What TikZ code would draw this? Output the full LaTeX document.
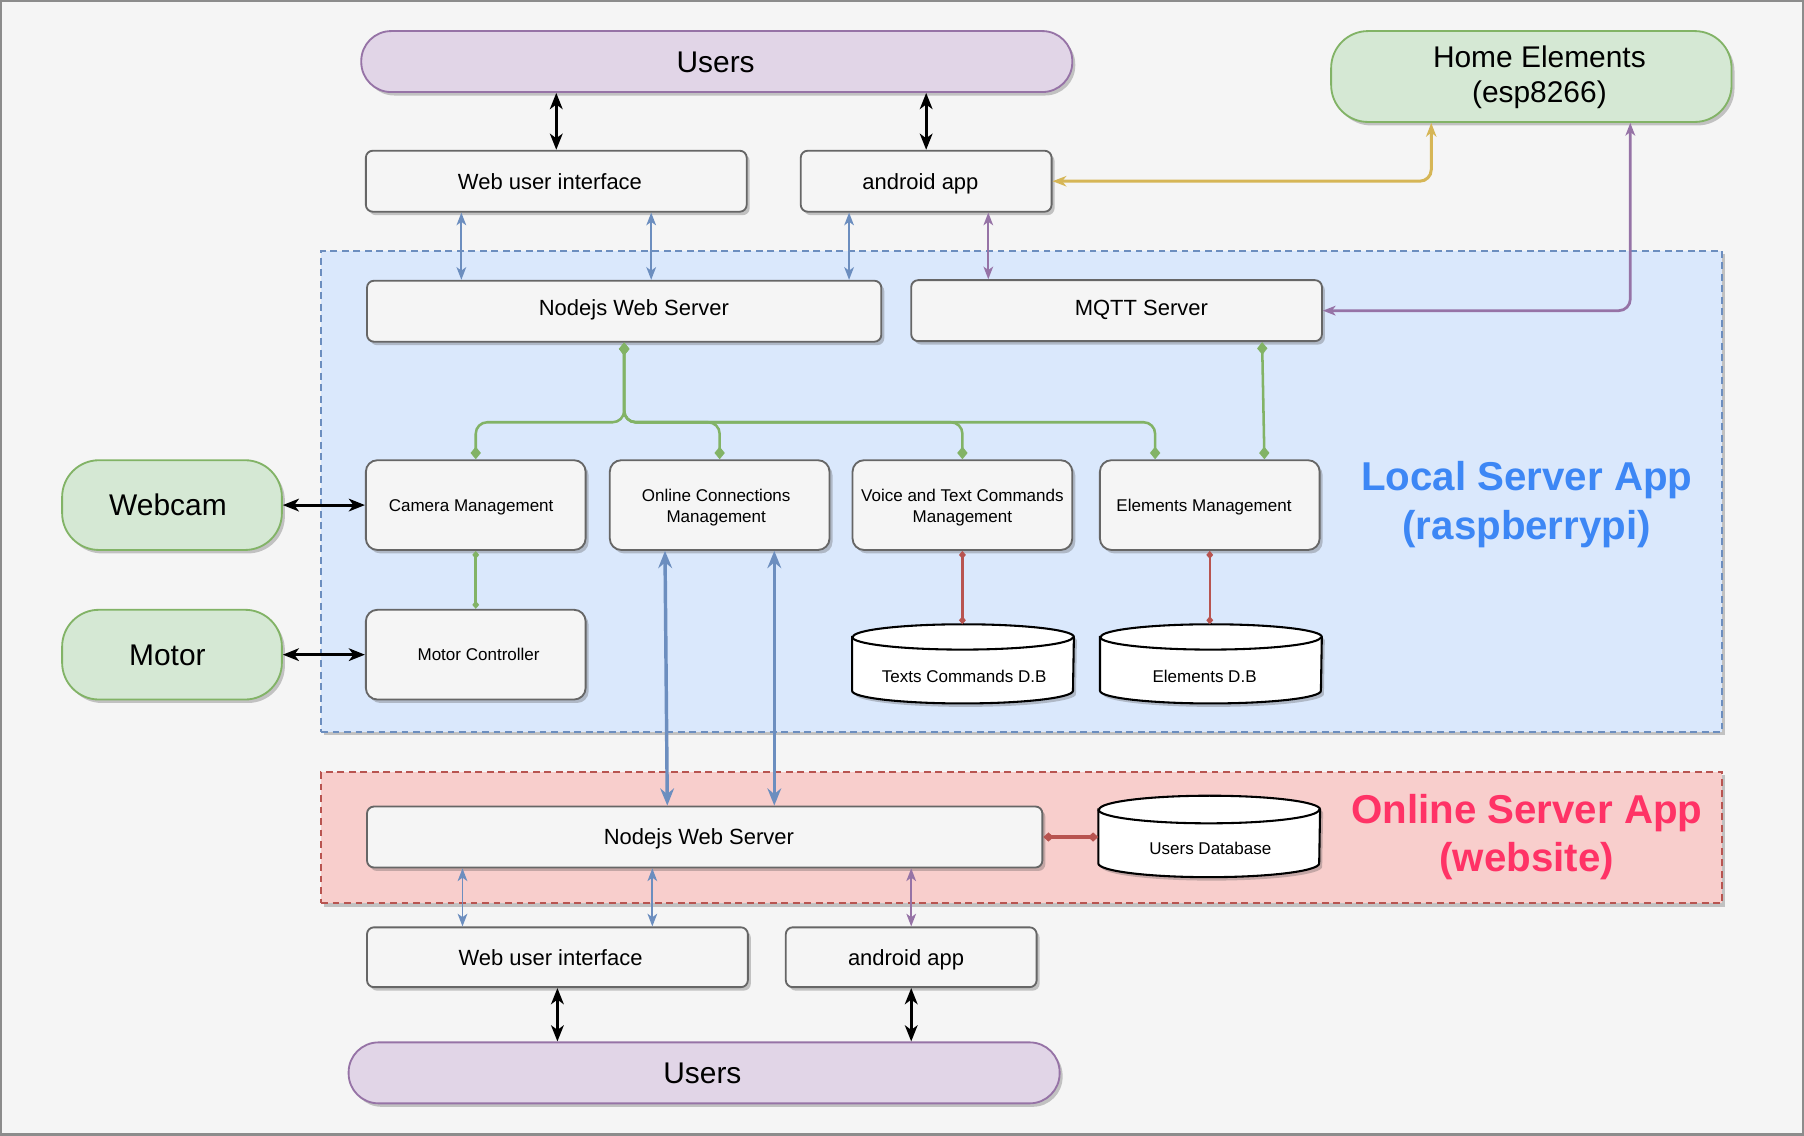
\documentclass[tikz,border=0pt]{standalone}
\usepackage{fontspec}
\setmainfont{Liberation Sans}
\usetikzlibrary{arrows.meta,shadows,calc}

\definecolor{bgc}{HTML}{F5F5F5}
\definecolor{framec}{HTML}{8C8C8C}
\definecolor{boxfill}{HTML}{F5F5F5}
\definecolor{boxline}{HTML}{666666}
\definecolor{purpfill}{HTML}{E1D5E7}
\definecolor{purpline}{HTML}{9673A6}
\definecolor{grnfill}{HTML}{D5E8D4}
\definecolor{grnline}{HTML}{82B366}
\definecolor{bluefill}{HTML}{DAE8FC}
\definecolor{blueline}{HTML}{6C8EBF}
\definecolor{redfill}{HTML}{F8CECC}
\definecolor{redline}{HTML}{B85450}
\definecolor{yelline}{HTML}{D6B656}
\definecolor{localtxt}{HTML}{3D87F5}
\definecolor{onlinetxt}{HTML}{FF3366}

\tikzset{
 shad/.style={drop shadow={shadow xshift=1.3pt,shadow yshift=-1.5pt,opacity=0.3,fill=black!70}},
 mbox/.style={draw=boxline, fill=boxfill, line width=0.8pt, rounded corners=3pt, shad, inner sep=0pt,
   font=\fontsize{9.55}{11}\selectfont, minimum height=26.5pt, text height=6.9pt, text depth=0pt},
 msbox/.style={mbox, rounded corners=5pt, minimum width=95.5pt, minimum height=39pt,
   font=\fontsize{7.4}{9}\selectfont, align=center, text height=5.3pt, text depth=0pt},
 two/.style={text height=15.3pt, text depth=0pt},
 ppill/.style={draw=purpline, fill=purpfill, line width=0.8pt, rounded corners=13pt, shad, inner sep=0pt,
   minimum height=26.5pt, font=\fontsize{13}{15}\selectfont, text height=9.4pt, text depth=0pt},
 gpill/.style={draw=grnline, fill=grnfill, line width=0.8pt, rounded corners=16pt, shad, inner sep=0pt,
   font=\fontsize{13}{15.5}\selectfont, align=center, text height=9.4pt, text depth=0pt},
 cont/.style={line width=0.8pt, dash pattern=on 3pt off 2pt, shad, inner sep=0pt},
 dbnode/.style={inner sep=0pt, minimum width=96pt},
 dbtxt/.style={font=\fontsize{7.4}{9}\selectfont},
 ttl/.style={font=\fontsize{17.5}{21}\selectfont\bfseries, align=center, text height=33.6pt, text depth=0pt},
 cblk/.style={line width=1.3pt, draw=black, <->, >={Stealth[length=7pt,width=5.5pt,inset=2pt]}},
 cblu/.style={line width=0.8pt, draw=blueline, <->, >={Stealth[length=5.5pt,width=4.2pt,inset=1.5pt]}},
 cbluthick/.style={line width=1.5pt, draw=blueline, <->, >={Stealth[length=7.5pt,width=6pt,inset=2.5pt]}},
 cpur/.style={line width=0.8pt, draw=purpline, <->, >={Stealth[length=5.5pt,width=4.2pt,inset=1.5pt]}},
 cpur2/.style={line width=1.2pt, draw=purpline, <->, >={Stealth[length=5.5pt,width=4.2pt,inset=1.5pt]}, rounded corners=5pt},
 cyel/.style={line width=1.3pt, draw=yelline, <->, >={Stealth[length=6pt,width=4.5pt,inset=1.8pt]}, rounded corners=5pt},
 cgrn/.style={line width=1.1pt, draw=grnline, arrows={Diamond[length=5.5pt,width=4.5pt]-Diamond[length=5.5pt,width=4.5pt]}},
 cgrns/.style={line width=1.1pt, draw=grnline, arrows={Diamond[length=3.5pt,width=3pt]-Diamond[length=3.5pt,width=3pt]}},
 creds/.style={line width=1.1pt, draw=redline, arrows={Diamond[length=3.5pt,width=3pt]-Diamond[length=3.5pt,width=3pt]}},
 credthick/.style={line width=1.8pt, draw=redline, arrows={Diamond[length=4.5pt,width=4pt]-Diamond[length=4.5pt,width=4pt]}},
}

% cylinder drawn from the anchors of a named node; #2 = ellipse y radius
\newcommand{\dbdraw}[2]{%
 \path[draw=black, fill=white, line width=0.9pt, shad]
   ($(#1.north west)+(0,-#2)$) -- ($(#1.south west)+(0,#2)$)
   arc[start angle=180,end angle=360,x radius=48pt,y radius=#2]
   -- ($(#1.north east)+(0,-#2)$)
   arc[start angle=0,end angle=180,x radius=48pt,y radius=#2] -- cycle;
 \draw[black, line width=0.9pt] ($(#1.north west)+(0,-#2)$)
   arc[start angle=180,end angle=360,x radius=48pt,y radius=#2];
}
% small horizontal text offsets inside boxes
\newcommand{\lsp}[1]{\hspace*{#1pt}}

\begin{document}
\begin{tikzpicture}[x=0.5pt,y=0.5pt]
\useasboundingbox (0,0) rectangle (1568,-987);
\draw[draw=framec, fill=bgc, line width=1pt] (1,-1) rectangle (1567,-986);

% containers
\node[cont, draw=blueline, fill=bluefill, minimum width=609pt, minimum height=209pt] (localc) at (888,-427) {};
\node[cont, draw=redline, fill=redfill, minimum width=609pt, minimum height=57pt] (onlinec) at (888,-728) {};

% top
\node[ppill, minimum width=309pt] (users1) at (623,-53.5) {Users\lsp{1}};
\node[gpill, minimum width=174pt, minimum height=39.5pt, text height=22.9pt] (home) at (1331,-66.5) {\lsp{7}Home Elements\\\lsp{7}(esp8266)};
\node[mbox, minimum width=165.5pt] (webui1) at (483.5,-157.5) {Web user interface\lsp{5.5}};
\node[mbox, minimum width=109pt] (android1) at (805,-157.5) {android app\lsp{5}};

% local server
\node[mbox, minimum width=223.5pt, text depth=3pt] (node1) at (542.5,-270.5) {\lsp{8.5}Nodejs Web Server};
\node[mbox, minimum width=178.5pt, text depth=3pt] (mqtt) at (970.5,-270) {\lsp{21.5}MQTT Server};
\node[msbox] (cam) at (413.5,-439) {Camera Management\lsp{4}};
\node[msbox, two] (onl) at (625.5,-439) {Online Connections\lsp{3}\\Management\lsp{3}};
\node[msbox, two] (voice) at (836.5,-439) {Voice and Text Commands\\Management};
\node[msbox] (elem) at (1051.5,-439) {Elements Management\lsp{5}};
\node[msbox] (motorc) at (413.5,-569) {\lsp{2.5}Motor Controller};
\node[dbnode, minimum height=34pt] (tdb) at (837,-577) {};
\dbdraw{tdb}{5.5pt}
\node[dbtxt] (tdbt) at ($(tdb.center)+(1,-11)$) {Texts Commands D.B};
\node[dbnode, minimum height=34pt] (edb) at (1052.5,-577) {};
\dbdraw{edb}{5.5pt}
\node[dbtxt] (edbt) at ($(edb.center)+(-5.5,-11)$) {Elements D.B};
\node[ttl, text=localtxt] (localttl) at (1327,-435) {Local Server App\\(raspberrypi)};

% left devices
\node[gpill, minimum width=95.5pt, minimum height=39pt] (webcam) at (149.5,-439) {Webcam\lsp{3.5}};
\node[gpill, minimum width=95.5pt, minimum height=39pt] (motor) at (149.5,-569) {Motor\lsp{4}};

% online server
\node[mbox, minimum width=293.5pt] (node2) at (612.5,-727.5) {Nodejs Web Server\lsp{5}};
\node[dbnode, minimum height=35pt] (udb) at (1051,-727) {};
\dbdraw{udb}{6pt}
\node[dbtxt] (udbt) at ($(udb.center)+(1,-10)$) {Users Database};
\node[ttl, text=onlinetxt] (onlinettl) at (1327,-724) {Online Server App\\(website)};

% bottom
\node[mbox, minimum width=165.5pt, minimum height=26pt] (webui2) at (484.5,-832) {Web user interface\lsp{6}};
\node[mbox, minimum width=109pt, minimum height=26pt] (android2) at (792,-832) {android app\lsp{4.5}};
\node[ppill, minimum width=309pt] (users2) at (612,-932.5) {Users\lsp{1.5}};

% ---- connectors ----
\draw[cblk] (users1.south -| webui1.north) -- (webui1.north);
\draw[cblk] (users1.south -| android1.north) -- (android1.north);

\coordinate (a1) at ($(webui1.south)+(-82.5,0)$);
\coordinate (a2) at ($(webui1.south)+(82.5,0)$);
\coordinate (a3) at ($(android1.south)+(-67,0)$);
\coordinate (a4) at ($(android1.south)+(54,0)$);
\draw[cblu] (a1) -- (a1 |- node1.north);
\draw[cblu] (a2) -- (a2 |- node1.north);
\draw[cblu] (a3) -- (a3 |- node1.north);
\draw[cpur] (a4) -- (a4 |- mqtt.north);

\coordinate (h1) at ($(home.south)+(-87,0)$);
\coordinate (h2) at ($(home.south)+(86,0)$);
\draw[cyel] (h1) |- (android1.east);
\draw[cpur2] (h2) |- (mqtt.east);

\coordinate (gbus) at (542.5,-367);
\coordinate (e1) at ($(elem.north)+(-47.5,0)$);
\draw[cgrn, rounded corners=5pt] (node1.south) -- (gbus) -| (cam.north);
\draw[cgrn, rounded corners=5pt] (node1.south) -- (gbus) -| (onl.north);
\draw[cgrn, rounded corners=5pt] (node1.south) -- (gbus) -| (voice.north);
\draw[cgrn, rounded corners=5pt] (node1.south) -- (gbus) -| (e1);
\draw[cgrn] ($(mqtt.south)+(126.5,0)$) -- ($(elem.north)+(47.5,0)$);
\draw[cgrns] (cam.south) -- (motorc.north);

\draw[cblk] (webcam.east) -- (cam.west);
\draw[cblk] (motor.east) -- (motorc.west);

\draw[creds] (voice.south) -- (voice.south |- tdb.north);
\draw[creds] (elem.south) -- (elem.south |- edb.north);

\draw[cbluthick] ($(onl.south)+(-47.5,0)$) -- ($(node2.north)+(-32.5,0)$);
\draw[cbluthick] ($(onl.south)+(47.5,0)$) -- ($(node2.north)+(60.5,0)$);

\draw[credthick] (node2.east) -- (node2.east -| udb.west);

\coordinate (b1) at ($(webui2.north)+(-82.5,0)$);
\coordinate (b2) at ($(webui2.north)+(82.5,0)$);
\draw[cblu] (b1 |- node2.south) -- (b1);
\draw[cblu] (b2 |- node2.south) -- (b2);
\draw[cpur] (android2.north |- node2.south) -- (android2.north);
\draw[cblk] (webui2.south) -- (webui2.south |- users2.north);
\draw[cblk] (android2.south) -- (android2.south |- users2.north);
\end{tikzpicture}
\end{document}
